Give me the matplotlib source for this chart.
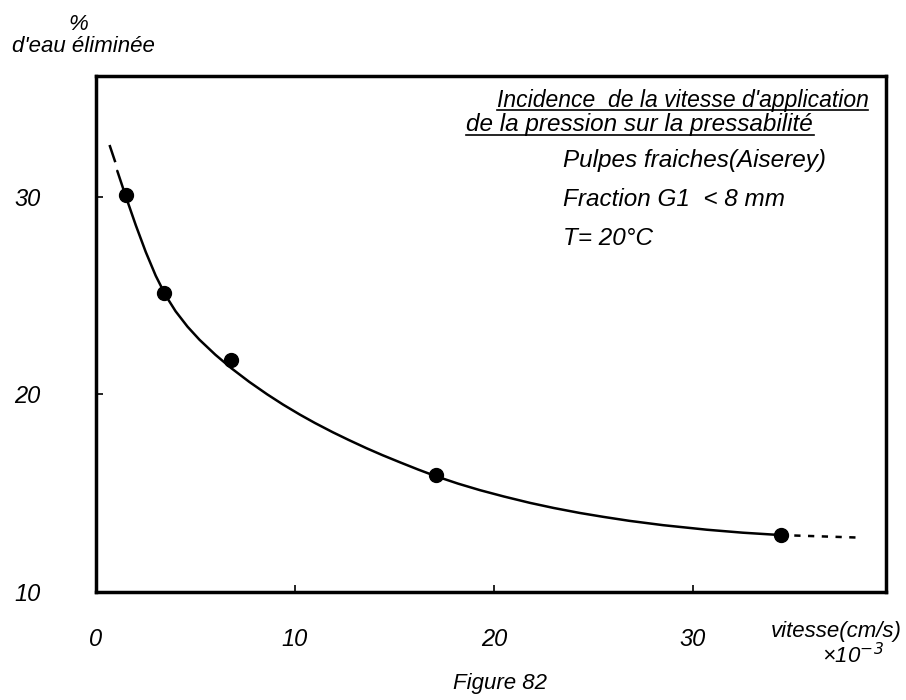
import numpy as np
import matplotlib.pyplot as plt
from matplotlib.lines import Line2D

plt.rcParams['font.family'] = ['Liberation Sans', 'DejaVu Sans']
plt.rcParams['font.style'] = 'italic'

# measured points
vitesse = [1.5, 3.4, 6.8, 17.1, 34.4]
eau_eliminee = [30.1, 25.1, 21.75, 15.9, 12.9]

# hand-drawn curve
curve_x = [1.07, 1.5, 2.0, 2.5, 3.0, 3.5, 4.0, 4.6, 5.2, 6.0, 6.8, 7.7, 8.6, 9.4,
           10.25, 11.0, 11.9, 12.7, 13.6, 14.4, 15.3, 16.2, 17.1, 18.2, 19.3, 20.5,
           21.8, 23.0, 24.3, 25.5, 26.8, 28.5, 30.7, 32.5, 34.4]
curve_y = [31.3, 30.0, 28.55, 27.2, 26.0, 25.0, 24.2, 23.42, 22.76, 22.0, 21.32, 20.63,
           20.0, 19.48, 18.97, 18.55, 18.08, 17.69, 17.27, 16.92, 16.55, 16.19, 15.85, 15.48,
           15.15, 14.83, 14.51, 14.25, 14.0, 13.8, 13.6, 13.38, 13.15, 13.0, 12.88]
# dashed extrapolations
ext_top_x = [0.7, 0.95]
ext_top_y = [32.55, 31.8]
ext_right_x = [34.4, 38.4]
ext_right_y = [12.88, 12.75]

xticks = [0, 10, 20, 30]
yticks = [10, 20, 30]

W, H = 906, 700
fig = plt.figure(figsize=(W / 100, H / 100), dpi=100)
ax = fig.add_axes([96 / W, 1 - 592 / H, (886 - 96) / W, (592 - 76) / H])

ax.plot(curve_x, curve_y, color='black', lw=1.8, solid_capstyle='round')
ax.plot(ext_top_x, ext_top_y, color='black', lw=1.8)
ax.plot(ext_right_x, ext_right_y, color='black', lw=1.8, ls=(0, (2.5, 3)))
ax.plot(vitesse, eau_eliminee, 'o', color='black', ms=10)

ax.set_xlim(0, 39.7)
ax.set_ylim(10, 36.1)
for s in ax.spines.values():
    s.set_linewidth(2.5)

ax.set_xticks(xticks)
ax.set_xticklabels([str(t) for t in xticks])
ax.set_yticks(yticks)
ax.set_yticklabels([str(t) for t in yticks])
ax.tick_params(direction='in', length=5, width=1.2, labelsize=17, pad=26)
ax.tick_params(axis='y', pad=40)

# y axis title
fig.text(78 / W, 1 - 24 / H, '%', ha='center', va='center', fontsize=16)
fig.text(83 / W, 1 - 46 / H, "d'eau éliminée", ha='center', va='center', fontsize=16)

# x axis title
fig.text(836 / W, 1 - 632 / H, 'vitesse(cm/s)', ha='center', va='center', fontsize=16)
fig.text(853 / W, 1 - 656 / H, r'×10$^{-3}$', ha='center', va='center', fontsize=16)

fig.text(500 / W, 1 - 684 / H, 'Figure 82', ha='center', va='center', fontsize=16)

# annotation block
notes = [
    (497, 100, "Incidence  de la vitesse d'application", 16.5),
    (466, 124, "de la pression sur la pressabilité", 17.5),
    (563, 160, "Pulpes fraiches(Aiserey)", 17.5),
    (563, 200, "Fraction G1  < 8 mm", 17.5),
    (563, 238, "T= 20°C", 17.5),
]
for x, y, s, fs in notes:
    fig.text(x / W, 1 - y / H, s, ha='left', va='center', fontsize=fs)

fig.add_artist(Line2D([497 / W, 868 / W], [1 - 110 / H, 1 - 110 / H], color='black', lw=1.2))
fig.add_artist(Line2D([466 / W, 814 / W], [1 - 135 / H, 1 - 135 / H], color='black', lw=1.2))

fig.savefig('out.png', dpi=100)
